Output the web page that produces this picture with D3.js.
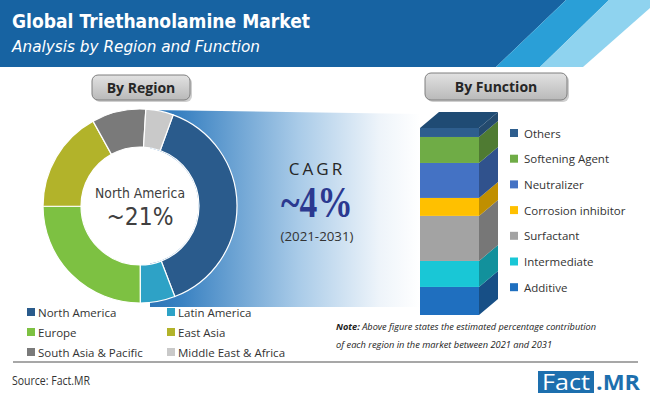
<!DOCTYPE html>
<html><head><meta charset="utf-8">
<script src="https://cdn.jsdelivr.net/npm/d3@7/dist/d3.min.js"></script>
<style>body{margin:0;background:#fff}svg{display:block}</style>
</head><body>
<script>
// ---- data ----
const regions = ["North America","Latin America","Europe","East Asia","South Asia & Pacific","Middle East & Africa"];
const regionShare = [38.6, 5.8, 25.0, 17.0, 9.0, 4.6];
const regionColors = ["#2a5b8c","#2ea2c6","#7dc142","#b2b32a","#7a7a7a","#c9c9c9"];

const functions = ["Additive","Intermediate","Surfactant","Corrosion inhibitor","Neutralizer","Softening Agent","Others"];
const functionShare = [15.0, 13.9, 24.1, 9.6, 18.7, 13.9, 4.8];
const functionFront = ["#1f6fbf","#19c7d6","#a3a3a3","#ffc000","#4472c4","#6fac46","#2e5e8e"];
const functionSide  = ["#174f86","#12919c","#777777","#c08f00","#30528d","#4f7b32","#244a6e"];

const W = 650, H = 395;
const svg = d3.select("body").append("svg").attr("width", W).attr("height", H);
const defs = svg.append("defs");

// ---- header ----
svg.append("polygon").attr("points","0,0 566,0 496,67 0,67").attr("fill","#1763a2");
svg.append("polygon").attr("points","566,0 609,0 540,67 496,67").attr("fill","#2a9fd7");
svg.append("polygon").attr("points","609,0 650,0 650,8 583,67 540,67").attr("fill","#8fd3ef");
svg.append("text").attr("x",12).attr("y",28).text("Global Triethanolamine Market")
  .attr("font-family","DejaVu Sans, sans-serif").attr("font-weight","bold").attr("font-size",19)
  .attr("fill","#fff").attr("textLength",298).attr("lengthAdjust","spacingAndGlyphs");
svg.append("text").attr("x",12).attr("y",52).text("Analysis by Region and Function")
  .attr("font-family","DejaVu Sans, sans-serif").attr("font-style","italic").attr("font-size",15)
  .attr("fill","#fff").attr("textLength",248).attr("lengthAdjust","spacingAndGlyphs");

// ---- gradient band ----
const g1 = defs.append("linearGradient").attr("id","band").attr("x1","0").attr("x2","1").attr("y1","0").attr("y2","0");
g1.append("stop").attr("offset","0").attr("stop-color","#2c74b6");
g1.append("stop").attr("offset","0.12").attr("stop-color","#3a82c2");
g1.append("stop").attr("offset","0.55").attr("stop-color","#a9cbe8");
g1.append("stop").attr("offset","0.85").attr("stop-color","#eef4fa");
g1.append("stop").attr("offset","1").attr("stop-color","#ffffff");
svg.append("polygon").attr("points","150,110 420,114 420,307 150,307").attr("fill","url(#band)");

// ---- buttons ----
const gb = defs.append("linearGradient").attr("id","btn").attr("x1","0").attr("x2","0").attr("y1","0").attr("y2","1");
gb.append("stop").attr("offset","0").attr("stop-color","#e2e2e2");
gb.append("stop").attr("offset","1").attr("stop-color","#b9b9b9");
function button(x,y,w,h,label){
  svg.append("rect").attr("x",x+2).attr("y",y+2).attr("width",w).attr("height",h).attr("rx",6).attr("fill","#cfcfcf");
  svg.append("rect").attr("x",x).attr("y",y).attr("width",w).attr("height",h).attr("rx",6)
    .attr("fill","url(#btn)").attr("stroke","#7f7f7f").attr("stroke-width",1);
  svg.append("text").attr("x",x+w/2).attr("y",y+h/2+5).attr("text-anchor","middle").text(label)
    .attr("font-family","Open Sans, sans-serif").attr("font-weight","bold").attr("font-size",14).attr("fill","#262626");
}
button(92,75,98,25,"By Region");
button(425,73,142,27,"By Function");

// ---- donut ----
const cx = 140, cy = 206;
const pie = d3.pie().sort(null).value(d => d)
  .startAngle(20*Math.PI/180).endAngle(20*Math.PI/180 + 2*Math.PI);
const arc = d3.arc().innerRadius(59).outerRadius(97);
const dg = svg.append("g").attr("transform",`translate(${cx},${cy})`);
dg.selectAll("path").data(pie(regionShare)).join("path")
  .attr("d",arc).attr("fill",(d,i)=>regionColors[i]).attr("stroke","#fff").attr("stroke-width",1.2);
dg.append("circle").attr("r",58.5).attr("fill","#fff");
dg.append("text").attr("y",-8).attr("text-anchor","middle").text("North America")
  .attr("font-family","DejaVu Sans, sans-serif").attr("font-size",14).attr("fill","#404040")
  .attr("textLength",90).attr("lengthAdjust","spacingAndGlyphs");
dg.append("text").attr("y",19).attr("text-anchor","middle").text("~21%")
  .attr("font-family","DejaVu Sans, sans-serif").attr("font-size",25).attr("fill","#404040")
  .attr("textLength",67).attr("lengthAdjust","spacingAndGlyphs");

// ---- CAGR ----
svg.append("text").attr("x",317).attr("y",175).attr("text-anchor","middle").text("CAGR")
  .attr("font-family","Open Sans, sans-serif").attr("font-size",17).attr("letter-spacing",3).attr("fill","#262626");
svg.append("text").attr("x",317).attr("y",217).attr("text-anchor","middle").text("~4%")
  .attr("font-family","Liberation Serif, serif").attr("font-weight","bold").attr("font-size",44).attr("fill","#2b3990")
  .attr("textLength",72).attr("lengthAdjust","spacingAndGlyphs");
svg.append("text").attr("x",317).attr("y",241).attr("text-anchor","middle").text("(2021-2031)")
  .attr("font-family","Open Sans, sans-serif").attr("font-size",13).attr("fill","#333")
  .attr("textLength",73).attr("lengthAdjust","spacingAndGlyphs");

// ---- 3D stacked bar ----
const y = d3.scaleLinear().domain([0,100]).range([315,128]);
const bx0 = 420, bx1 = 479, dx = 19, dy = -16;
let acc = 0;
const segs = functionShare.map((v,i)=>{ const s={i, a:acc, b:acc+v}; acc+=v; return s; });
const bar = svg.append("g");
bar.selectAll("rect.front").data(segs).join("rect").attr("class","front")
  .attr("x",bx0).attr("width",bx1-bx0).attr("y",d=>y(d.b)).attr("height",d=>y(d.a)-y(d.b))
  .attr("fill",d=>functionFront[d.i]);
bar.selectAll("polygon.side").data(segs).join("polygon").attr("class","side")
  .attr("points",d=>`${bx1},${y(d.b)} ${bx1+dx},${y(d.b)+dy} ${bx1+dx},${y(d.a)+dy} ${bx1},${y(d.a)}`)
  .attr("fill",d=>functionSide[d.i]);
bar.append("polygon")
  .attr("points",`${bx0},${y(acc)} ${bx1},${y(acc)} ${bx1+dx},${y(acc)+dy} ${bx0+dx},${y(acc)+dy}`)
  .attr("fill","#1f4b74");

// function legend (top to bottom)
const fl = svg.append("g");
const fOrder = d3.range(functions.length).reverse();
fOrder.forEach((fi,k)=>{
  const yy = 133 + k*25.7;
  fl.append("rect").attr("x",510).attr("y",yy-4).attr("width",8).attr("height",8).attr("fill",functionFront[fi]);
  fl.append("text").attr("x",524).attr("y",yy+4.5).text(functions[fi])
    .attr("font-family","Open Sans, sans-serif").attr("font-size",11.5).attr("fill","#333");
});

// region legend
const rl = svg.append("g");
regions.forEach((r,i)=>{
  const col = i%2, row = Math.floor(i/2);
  const x = col ? 167 : 27, yy = 312 + row*20;
  rl.append("rect").attr("x",x).attr("y",yy-4).attr("width",8).attr("height",8).attr("fill",regionColors[i]);
  rl.append("text").attr("x",x+11).attr("y",yy+4.5).text(r)
    .attr("font-family","Open Sans, sans-serif").attr("font-size",11.5).attr("fill","#333");
});

// note
const note = svg.append("text").attr("x",336).attr("y",330)
  .attr("font-family","Open Sans, sans-serif").attr("font-style","italic").attr("font-size",8.5).attr("fill","#222")
  .attr("textLength",260).attr("lengthAdjust","spacingAndGlyphs");
note.append("tspan").attr("font-weight","bold").text("Note:");
note.append("tspan").text(" Above figure states the estimated percentage contribution");
svg.append("text").attr("x",336).attr("y",348).text("of each region in the market between 2021 and 2031")
  .attr("font-family","Open Sans, sans-serif").attr("font-style","italic").attr("font-size",8.5).attr("fill","#222")
  .attr("textLength",216).attr("lengthAdjust","spacingAndGlyphs");

// separator & footer
svg.append("line").attr("x1",13).attr("x2",638).attr("y1",362).attr("y2",362).attr("stroke","#8a8a8a").attr("stroke-width",1.5);
svg.append("text").attr("x",12).attr("y",385).text("Source: Fact.MR")
  .attr("font-family","Open Sans, sans-serif").attr("font-size",12).attr("fill","#333")
  .attr("textLength",78).attr("lengthAdjust","spacingAndGlyphs");
svg.append("rect").attr("x",538).attr("y",371).attr("width",56).attr("height",22).attr("fill","#1d6fae");
svg.append("text").attr("x",566).attr("y",390).attr("text-anchor","middle").text("Fact")
  .attr("font-family","Open Sans, sans-serif").attr("font-size",22).attr("fill","#fff")
  .attr("textLength",48).attr("lengthAdjust","spacingAndGlyphs");
svg.append("text").attr("x",596).attr("y",390).text(".MR")
  .attr("font-family","Open Sans, sans-serif").attr("font-weight","bold").attr("font-size",22).attr("fill","#1d6fae")
  .attr("textLength",44).attr("lengthAdjust","spacingAndGlyphs");
</script>
</body></html>
